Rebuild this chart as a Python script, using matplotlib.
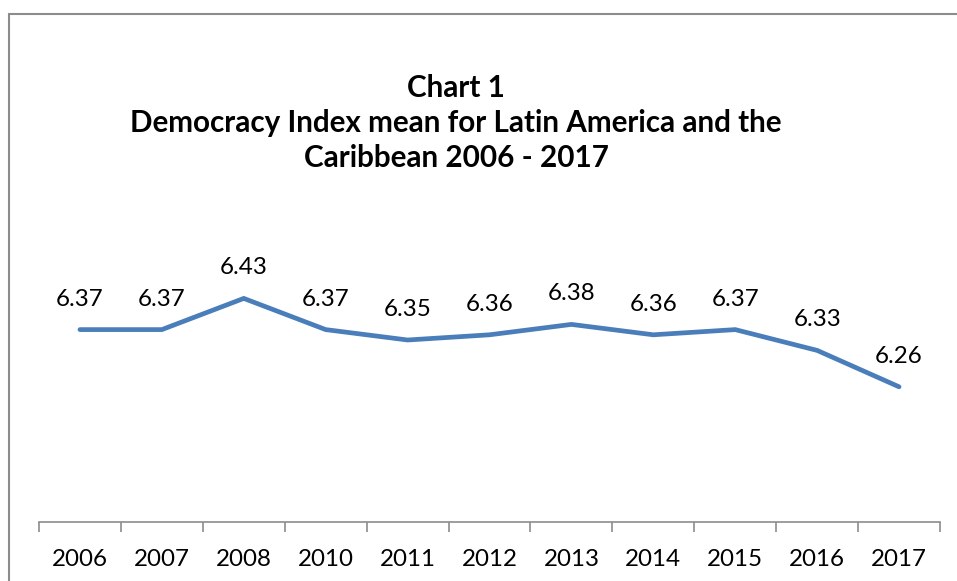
import matplotlib
matplotlib.use("Agg")
import matplotlib.pyplot as plt
from matplotlib.patches import Rectangle

years = ["2006", "2007", "2008", "2010", "2011", "2012", "2013", "2014", "2015", "2016", "2017"]
index_mean = [6.37, 6.37, 6.43, 6.37, 6.35, 6.36, 6.38, 6.36, 6.37, 6.33, 6.26]

plt.rcParams["font.family"] = ["Lato", "DejaVu Sans"]

fig = plt.figure(figsize=(9.57, 5.81), dpi=100)
# chart border like the excel frame
fig.patches.append(Rectangle((9 / 957, -0.1), 1.0, 1 - 14 / 581 + 0.1, transform=fig.transFigure,
                             fill=False, edgecolor="#8c8c8c", linewidth=1.5))

ax = fig.add_axes([39 / 957, 59 / 581, (940 - 39) / 957, (522 - 262) / 581])
x = list(range(len(years)))
ax.plot(x, index_mean, color="#4a7ebb", linewidth=3.4, solid_capstyle="round", solid_joinstyle="miter")
for xi, v in zip(x, index_mean):
    ax.annotate("%.2f" % v, (xi, v), xytext=(0, 22), textcoords="offset points",
                ha="center", va="center", fontsize=17.4)

ax.set_xlim(-0.5, len(years) - 0.5)
ax.set_ylim(6.0, 6.5)
ax.set_xticks(x)
ax.set_xticklabels(years, fontsize=17.4)
ax.set_xticks([i - 0.5 for i in range(len(years) + 1)], minor=True)
ax.tick_params(axis="x", which="major", length=0, pad=19.5)
ax.tick_params(axis="x", which="minor", length=7, width=1.2, color="#8c8c8c", direction="out")
ax.set_yticks([])
for s in ["top", "right", "left"]:
    ax.spines[s].set_visible(False)
ax.spines["bottom"].set_color("#8c8c8c")
ax.spines["bottom"].set_linewidth(1.2)

fig.text(456 / 957, 1 - 123 / 581, "Chart 1\nDemocracy Index mean for Latin America and the\nCaribbean 2006 - 2017",
         ha="center", va="center", fontsize=21.3, fontweight="bold", linespacing=1.3)

fig.savefig("out.png", dpi=100)
